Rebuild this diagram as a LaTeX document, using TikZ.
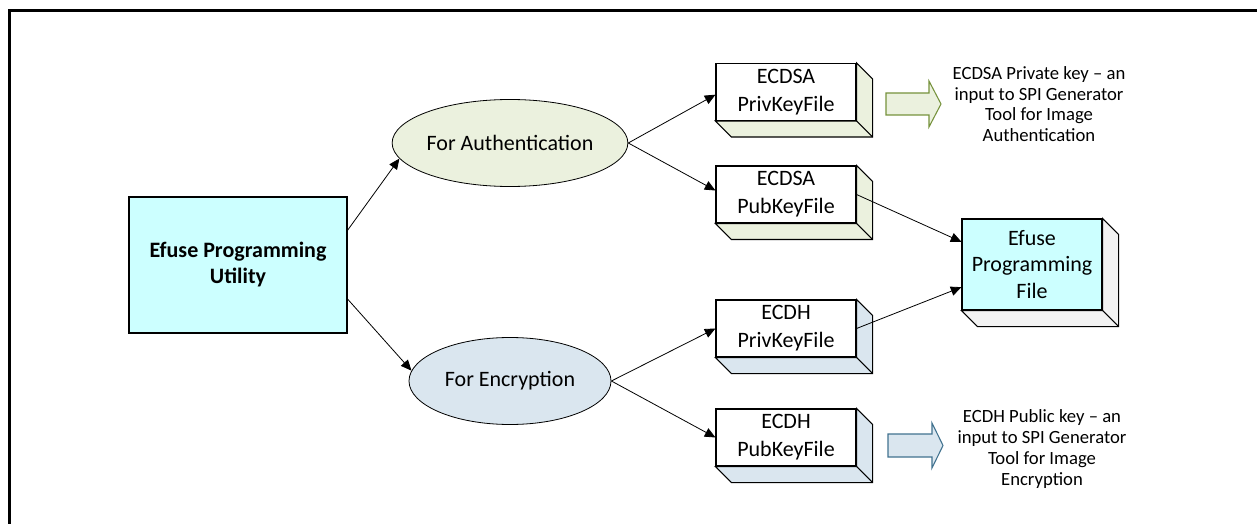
\documentclass[tikz,border=0pt]{standalone}
\usepackage{fontspec}
\setmainfont{Carlito}
\usetikzlibrary{shapes.geometric,arrows.meta,calc}

\definecolor{utilcyan}{HTML}{CCFFFF}
\definecolor{authgreen}{HTML}{EBF1DE}
\definecolor{encblue}{HTML}{DAE6EF}
\definecolor{sidegray}{HTML}{F2F2F2}
\definecolor{oliveline}{HTML}{76923C}
\definecolor{blueline}{HTML}{41728F}

\tikzset{
  every node/.style={font=\fontsize{16.5}{21}\selectfont},
  flow/.style={-{Triangle[length=8pt,width=7pt]}, line width=0.6pt},
  keyfile/.style={draw, fill=white, line width=0.8pt, align=center, inner sep=0pt,
    minimum width=105pt, minimum height=42.75pt},
  choice/.style={ellipse, draw, line width=0.6pt, inner sep=0pt,
    minimum width=151.5pt, minimum height=65.25pt},
  note/.style={align=center, font=\fontsize{14}{15.6}\selectfont},
}

\begin{document}
\begin{tikzpicture}[x=0.75pt, y=-0.75pt]
    \useasboundingbox (0,0) rectangle (1257,524);
    % Rahmen
    \draw[line width=2.25pt] (9,524) -- (9,11) -- (1257,11);

    % Utility und Auswahl
    \node (util) at (238,265) [draw, fill=utilcyan, line width=0.8pt, minimum width=163.5pt,
      minimum height=102pt, align=center, font=\bfseries\fontsize{16.5}{19.5}\selectfont]
      {Efuse Programming\\Utility};
    \node (auth) at (510,143) [choice, fill=authgreen] {For Authentication};
    \node (enc) at (510,381) [choice, fill=encblue] {For Encryption};

    % Schluesseldateien
    \node (dsapriv) at (786,92) [keyfile] {ECDSA\\PrivKeyFile};
    \node (dsapub) at (786,194.5) [keyfile] {ECDSA\\PubKeyFile};
    \node (dhpriv) at (786,328.5) [keyfile] {ECDH\\PrivKeyFile};
    \node (dhpub) at (786,437.5) [keyfile] {ECDH\\PubKeyFile};
    \node (efile) at (1032,264.5) [keyfile, fill=utilcyan, minimum height=68.25pt,
      font=\fontsize{16.5}{20}\selectfont] {Efuse\\Programming\\File};

    % Tiefe der Boxen
    \foreach \n/\col in {dsapriv/authgreen, dsapub/authgreen, dhpriv/encblue,
                         dhpub/encblue, efile/sidegray} {
      \filldraw[fill=\col, line width=0.8pt] (\n.north east) -- ++(16,16)
        -- ($(\n.south east)+(16,16)$) -- ($(\n.south west)+(16,16)$)
        -- (\n.south west) -- (\n.south east) -- cycle;
      \draw[line width=0.8pt] (\n.south east) -- ++(16,16);
    }

    % Pfeile
    \draw[flow] ([yshift=26pt]util.east) -- (auth.188);
    \draw[flow] ([yshift=-25.5pt]util.east) -- (enc.174);
    \draw[flow] (auth.east) -- ([yshift=-2pt]dsapriv.west);
    \draw[flow] (auth.east) -- ([yshift=3pt]dsapub.west);
    \draw[flow] (enc.east) -- (dhpriv.west);
    \draw[flow] (enc.east) -- (dhpub.west);
    \draw[flow] (dsapub.east) -- ([yshift=17pt]efile.west);
    \draw[flow] (dhpriv.east) -- ([yshift=-17pt]efile.west);

    % Blockpfeile
    \filldraw[fill=authgreen, draw=oliveline, line width=0.8pt] (886,93) -- (929,93)
      -- (929,81) -- (941,104) -- (929,127) -- (929,115) -- (886,115) -- cycle;
    \filldraw[fill=encblue, draw=blueline, line width=0.8pt] (888,434) -- (932,434)
      -- (932,423) -- (943,445.5) -- (932,468) -- (932,457) -- (888,457) -- cycle;

    % Hinweise
    \node (dsanote) at (1039,104) [note]
      {ECDSA Private key – an\\input to SPI Generator\\Tool for Image\\Authentication};
    \node (dhnote) at (1042,449) [note]
      {ECDH Public key – an\\input to SPI Generator\\Tool for Image\\Encryption};
\end{tikzpicture}
\end{document}
